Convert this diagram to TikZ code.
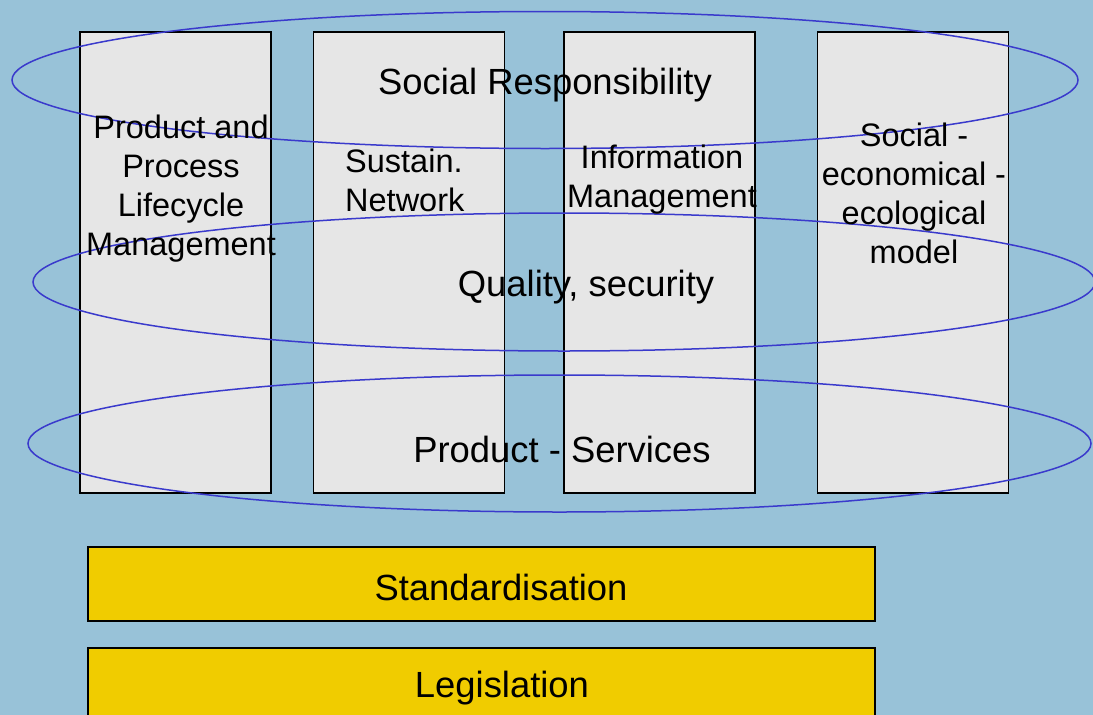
\documentclass[tikz,border=0pt]{standalone}
\usepackage{fontspec}
\setmainfont{Liberation Sans}
\usetikzlibrary{shapes.geometric}
\definecolor{bgblue}{HTML}{98C2D8}
\definecolor{colgrey}{HTML}{E6E6E6}
\definecolor{ringblue}{HTML}{3A3ACC}
\definecolor{boxyellow}{HTML}{F0CC00}
\tikzset{
  colbox/.style={draw=black, line width=1.6pt, fill=colgrey, inner sep=0pt, minimum width=191pt, minimum height=461pt},
  ring/.style={draw=ringblue, line width=1.5pt, ellipse, inner sep=0pt},
  coltext/.style={font=\fontsize{32.5}{39}\selectfont, inner sep=0pt},
  ringtext/.style={font=\fontsize{36.4}{43}\selectfont, inner sep=0pt},
  basebox/.style={draw=black, line width=1.6pt, fill=boxyellow, inner sep=0pt, minimum width=787pt, minimum height=74pt},
  basetext/.style={font=\fontsize{36.4}{43}\selectfont, inner sep=0pt}
}
\begin{document}
\begin{tikzpicture}[x=1pt,y=-1pt]
\fill[bgblue] (0,0) rectangle (1093,715);
\useasboundingbox (0,0) rectangle (1093,715);
% columns
\node[colbox] (c1) at (175.5,262.5) {};
\node[colbox] (c2) at (409,262.5) {};
\node[colbox] (c3) at (659.5,262.5) {};
\node[colbox] (c4) at (913,262.5) {};
% yellow bases
\node[basebox] (std) at (481.5,584) {};
\node[basebox] (leg) at (481.5,685) {};
\node[basetext] (stdt) at (501,587) {Standardisation};
\node[basetext] (legt) at (502,688) {Legislation};
% rings
\node[ring, minimum width=1066pt, minimum height=137pt] (e1) at (545,80) {};
\node[ring, minimum width=1062pt, minimum height=138pt] (e2) at (564,282) {};
\node[ring, minimum width=1063pt, minimum height=137pt] (e3) at (559.5,443.5) {};
% column texts
\node[coltext, align=center] (t1) at (181,189) {Product and\\Process\\Lifecycle\\Management};
\node[coltext, align=left, anchor=west] (t2) at (345,180) {Sustain.\\Network};
\node[coltext, align=center] (t3) at (662,180) {Information\\Management};
\node[coltext, align=center] (t4) at (914,193) {Social -\\economical -\\ecological\\model};
% ring labels
\node[ringtext] (l1) at (545,85) {Social Responsibility};
\node[ringtext] (l2) at (586,287) {Quality, security};
\node[ringtext] (l3) at (562,449) {Product - Services};
\end{tikzpicture}
\end{document}
